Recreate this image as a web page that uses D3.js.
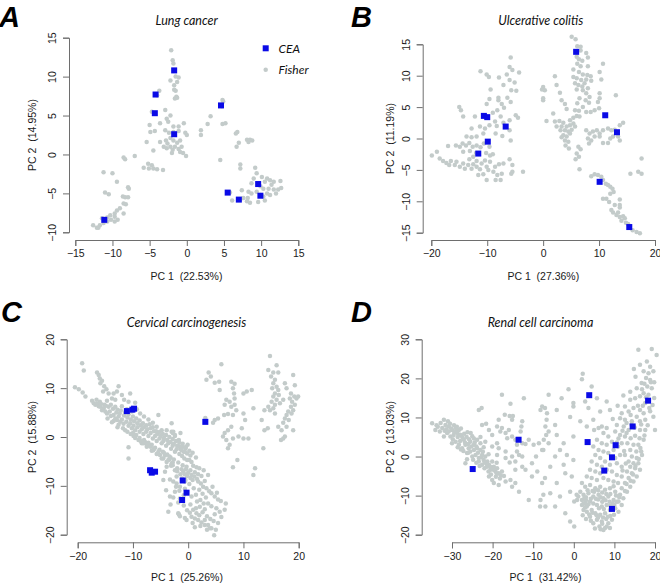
<!DOCTYPE html>
<html><head><meta charset="utf-8">
<script src="https://cdn.jsdelivr.net/npm/d3@7"></script>
<style>body{margin:0;background:#fff}svg{display:block}</style>
</head><body>
<script>
// ---------------- DATA ----------------
const lungXTicks=[-15,-10,-5,0,5,10,15];
const lungYTicks=[-10,-5,0,5,10,15];
const lungCEA=[[-1.7,10.8],[-4.2,7.7],[-4.3,5.3],[-1.7,2.6],[4.6,6.3],[5.5,-4.9],[7.0,-5.8],[9.6,-3.8],[9.9,-5.3],[-11.1,-8.4]];
const lungFisher=[[-2.1,13.4],[-1.9,12.1],[-1.8,11.7],[-1.5,10.0],[-1.1,9.9],[-2.2,9.5],[-1.3,9.3],[-1.7,8.9],[-1.7,8.3],[-1.5,8.2],[-1.4,7.4],[-1.6,7.2],[-1.3,7.3],
[-3.7,8.2],[-4.0,7.6],[-4.7,5.5],[-2.9,5.7],[-2.2,5.0],[-2.7,4.6],[-5.0,3.8],[-3.6,4.0],[-2.5,4.2],[-1.8,3.6],[-1.1,3.6],[-0.4,4.0],[-4.9,2.9],[-4.3,3.0],[-2.9,3.1],[-2.4,2.8],[-1.8,2.9],[-1.1,3.0],[-0.2,2.8],[0,2.5],[-5.4,1.6],[-3.6,1.6],[-2.8,1.8],[-2.6,1.4],[-2.2,2.1],[-1.8,1.8],[-1.3,1.5],[-0.9,1.8],[-3.1,1.0],[-2.7,0.8],[-2.2,1.0],[-1.9,0.6],[-1.6,1.0],[-1.1,0.7],[-0.7,1.0],[-0.5,0.2],[-2.0,0.2],[-4.5,0.5],[-0.1,-0.2],[-0.9,0.3],
[-5.2,-1.2],[-5.8,-1.7],[-5.1,-1.8],[-4.5,-1.8],[-4.0,-1.9],[-3.2,-2.0],[-4.7,-1.4],[-7.0,-0.2],[-8.5,-0.4],[-8.3,-0.6],
[-11.2,-2.3],[-10.0,-2.4],[-9.4,-3.5],[-11.0,-4.9],[-10.5,-5.1],[-7.9,-4.2],[-7.8,-4.4],[-8.6,-5.4],[-8.3,-5.5],[-7.9,-5.5],[-8.5,-6.3],[-8.2,-6.4],[-9.0,-6.9],[-8.5,-7.6],[-9.4,-7.2],[-9.7,-7.6],[-9.7,-8.0],[-10.3,-7.8],[-10.7,-8.1],[-10.2,-8.4],[-9.7,-8.6],[-11.4,-8.2],[-11.2,-8.8],[-11.7,-9.1],[-12.1,-9.4],[-12.6,-9.1],[-11.9,-9.4],[-10.7,-8.6],[-9.3,-8.4],
[1.9,3.1],[1.9,2.5],[2.8,3.9],[3.2,4.9],[4.7,6.2],[4.8,7.0],[4.9,6.8],[4.8,3.9],[5.2,4.0],[4.5,-0.7],[6.8,2.9],[6.6,2.7],[7.0,1.5],[6.7,1.0],[8.1,1.9],[8.3,1.6],[8.5,1.9],[8.8,1.8],[7.2,-1.3],[7.2,-1.8],[9.2,-1.7],[9.4,-2.4],[10.1,-2.9],[9.0,-3.1],[8.7,-3.7],[10.8,-3.1],[10.5,-3.5],[11.2,-3.3],[11.7,-3.5],[11.4,-3.9],[12.6,-3.4],[9.9,-4.1],[10.3,-4.4],[11.0,-4.4],[11.7,-4.5],[12.3,-4.5],[12.7,-4.3],[10.8,-5.0],[11.2,-5.2],[10.3,-5.4],[12.0,-5.0],[8.3,-4.8],[8.7,-5.0],[7.4,-4.6],[7.6,-5.6],[8.1,-6.0],[8.2,-5.6],[7.2,-5.8],[6.1,-5.9],[5.8,-4.9],[8.5,-6.2],[9.6,-6.1],[10.5,-5.9],[9.9,-5.2],[9.4,-4.8]];

const colitisXTicks=[-20,-10,0,10,20];
const colitisYTicks=[-15,-10,-5,0,5,10,15];
const colitisCEA=[[-10.6,3.6],[-10.0,3.4],[-6.7,1.9],[-9.9,-0.5],[-11.6,-2.4],[5.9,13.8],[11.1,3.7],[13.2,1.0],[10.1,-6.9],[15.4,-14.1]];
const colitisFisher=[[-5.8,12.9],[-6.0,11.4],[-5.5,10.9],[-11.2,10.7],[-10.1,10.2],[-4.3,10.5],[-9.7,9.8],[-7.9,9.7],[-6.5,10.2],[-6.0,9.3],[-7.1,8.5],[-5.1,8.9],[-9.4,7.8],[-5.7,7.7],[-4.8,7.6],[-8.0,6.5],[-9.6,6.3],[-8.0,6.1],[-6.4,6.5],[-7.4,5.5],[-10.1,5.5],[-5.8,5.8],[-7.0,4.9],[-15.0,5.0],[-14.7,4.5],[-14.3,3.5],[-8.2,4.5],[-9.0,4.1],[-7.6,3.5],[-4.9,3.7],[-4.5,3.3],[-12.2,3.5],[-8.6,2.7],[-6.0,2.9],[-12.8,1.6],[-11.3,1.9],[-10.4,1.6],[-9.6,2.1],[-8.3,2.0],[-7.1,2.5],[-6.0,1.3],[-5.8,-0.3],[-13.7,0.3],[-12.8,0.2],[-11.9,0.3],[-10.7,0.8],[-8.5,0.8],[-7.3,0.4],[-17.0,-1.2],[-15.6,-1.1],[-14.9,-1.3],[-14.4,-0.8],[-13.8,-1.1],[-13.2,-0.7],[-12.6,-1.3],[-11.9,-1.1],[-11.2,-1.4],[-10.6,-0.8],[-9.6,-1.3],[-13.1,-2.0],[-12.0,-2.3],[-10.2,-2.3],[-9.0,-2.5],[-14.3,-2.1],[-19.0,-2.1],[-19.9,-2.7],[-18.5,-3.2],[-17.9,-3.6],[-17.3,-3.9],[-16.8,-4.2],[-16.5,-3.6],[-15.8,-4.2],[-15.5,-3.7],[-14.9,-4.5],[-14.3,-4.0],[-14.0,-4.8],[-13.4,-4.2],[-12.8,-4.8],[-12.5,-4.1],[-11.9,-4.5],[-11.3,-4.9],[-11.0,-4.0],[-10.4,-3.5],[-10.1,-4.5],[-9.5,-3.7],[-9.8,-5.0],[-8.9,-5.3],[-8.6,-4.5],[-8.2,-5.8],[-8.5,-6.6],[-7.6,-6.6],[-7.4,-5.6],[-10.1,-6.6],[-11.6,-5.8],[-10.7,-5.7],[-7.9,-4.1],[-7.1,-4.0],[-5.5,-4.2],[-5.5,-5.3],[-5.7,-5.6],[-3.6,-5.3],[-6.0,-3.3],[-12.5,-2.9],[-13.2,-3.3],[-9.5,-2.7],[-11.9,-3.6],
[5.1,16.2],[5.8,15.8],[6.1,14.7],[6.7,14.6],[6.7,14.0],[7.7,13.6],[6.0,13.0],[6.4,12.6],[7.0,12.4],[8.0,12.9],[6.1,11.9],[6.7,11.5],[8.0,11.5],[10.7,11.9],[5.4,11.0],[6.4,10.6],[7.1,10.2],[7.9,10.1],[8.5,9.9],[10.1,10.6],[2.1,9.9],[5.4,9.8],[6.0,9.6],[6.8,9.3],[7.7,9.4],[8.6,9.2],[10.4,9.4],[5.7,8.8],[6.3,8.5],[7.0,8.3],[7.4,8.8],[2.4,8.5],[0.0,8.2],[0.3,7.7],[-0.2,7.8],[0.0,6.4],[6.0,7.8],[7.1,7.7],[8.0,8.0],[7.7,7.2],[10.1,7.2],[13.0,6.9],[0.0,6.1],[3.0,7.3],[3.3,6.1],[6.5,6.4],[7.6,6.1],[8.3,6.6],[10.1,6.4],[3.9,5.5],[6.1,5.6],[7.1,5.0],[8.2,5.7],[9.8,5.8],[5.7,4.5],[6.4,4.4],[7.7,4.2],[8.5,4.2],[9.2,4.5],[10.0,4.8],[4.2,4.7],[1.8,4.0],[0.6,2.8],[2.1,2.7],[2.9,2.8],[3.6,2.5],[4.8,2.9],[5.4,3.3],[6.0,3.6],[6.5,3.5],[2.4,1.9],[3.3,1.9],[4.2,1.9],[4.8,2.1],[5.4,2.4],[3.1,1.3],[3.9,1.3],[4.5,1.1],[5.1,1.4],[5.7,1.9],[3.6,0.5],[4.2,0.3],[4.8,0.8],[3.3,0.2],[3.9,-0.3],[4.5,-0.5],[4.0,-1.1],[4.6,-1.6],[6.3,-1.3],[6.7,-1.7],[6.0,-2.4],[6.4,-2.9],[5.8,-3.3],[6.5,-4.9],[7.7,1.3],[8.3,0.8],[8.9,1.1],[9.6,1.3],[10.1,0.8],[10.7,1.3],[11.6,1.6],[12.2,1.3],[12.8,1.4],[13.7,2.1],[14.3,2.5],[8.0,0.0],[8.6,-0.3],[8.2,-0.8],[9.2,0.3],[10.1,0.3],[10.7,-0.7],[11.6,-0.7],[12.0,0.0],[12.5,0.3],[13.4,0.3],[13.7,-0.3],[17.6,-3.2],[15.6,-5.6],[17.0,-5.3],[17.6,-5.6],[8.6,-6.0],[9.2,-5.7],[9.8,-5.8],[10.4,-6.1],[10.7,-6.6],[11.2,-7.2],[11.6,-7.4],[12.0,-7.7],[12.4,-8.0],[10.7,-9.6],[11.3,-9.6],[11.8,-10.1],[12.0,-8.8],[12.6,-8.5],[12.8,-10.6],[13.7,-10.6],[13.7,-9.7],[12.2,-11.4],[12.5,-11.8],[13.1,-12.2],[13.7,-12.5],[14.3,-12.4],[14.6,-12.7],[14.0,-13.1],[14.8,-13.4],[15.2,-13.6],[16.0,-14.6],[16.7,-14.9],[17.3,-15.1],[13.7,-11.0],[13.4,-11.8]];

const cervicalXTicks=[-20,-10,0,10,20];
const cervicalYTicks=[-20,-10,0,10,20];
const cervicalCEA=[[-11.1,5.3],[-10.1,5.6],[-9.8,5.8],[-6.9,-6.8],[-6.6,-7.3],[-6.0,-7.1],[-1.0,-8.9],[-0.3,-11.4],[-1.1,-12.9],[3.1,3.1]];
const cervicalFisher=[[-19.2,15.1],[-18.9,13.6],[-20.5,10.2],[-19.8,9.8],[-19.1,9.1],[-18.6,8.3],[-16.5,13.2],[-16.2,12.7],[-16.0,12.0],[-15.6,11.5],[-15.9,11.0],[-15.2,10.4],[-14.8,9.8],[-15.4,9.3],[-14.4,8.9],[-13.5,8.9],[-12.9,9.3],[-12.6,10.4],[-13.8,7.9],[-13.2,7.6],[-14.7,7.4],[-12.0,8.6],[-11.6,7.6],[-10.5,8.9],[-9.6,7.0],[-10.8,7.2],
[-17.1,6.9],[-16.8,6.6],[-16.5,6.8],[-16.2,6.3],[-15.9,6.2],[-15.6,5.5],[-15.3,5.9],[-15.0,5.2],[-14.7,4.8],[-14.2,5.2],[-14.0,4.3],[-13.5,4.5],[-13.2,3.8],[-12.9,3.5],[-12.6,4.2],[-12.3,3.1],[-12.0,3.6],[-11.7,2.7],[-11.2,3.1],[-10.8,2.3],[-10.5,2.8],[-10.2,1.8],[-9.9,2.3],[-9.6,1.4],[-9.2,2.0],[-8.8,1.1],[-8.4,1.6],[-8.1,0.6],[-7.6,1.1],[-7.2,0.2],[-6.8,0.8],[-6.4,-0.3],[-6.0,0.2],[-5.7,-0.8],[-5.2,-0.3],[-4.8,-1.3],[-4.5,-0.8],[-4.0,-1.8],[-3.6,-1.3],[-3.1,-2.4],[-2.8,-1.8],[-2.4,-3.0],[-2.1,-2.5],[-1.6,-3.5],[-1.1,-3.9],[-0.7,-4.4],[-0.2,-4.7],
[-12.0,6.3],[-11.1,5.7],[-10.2,5.2],[-9.3,5.7],[-8.7,4.8],[-8.0,4.2],[-7.2,3.6],[-6.4,2.9],[-5.7,2.1],[-5.4,4.5],[-4.8,1.4],[-3.9,1.4],[-3.0,1.1],[-2.8,0.8],[-2.4,0.2],[-1.7,-0.6],[-1.1,-2.0],[-0.5,-2.3],[-0.1,-1.6],[-2.7,1.1],[-2.4,0.4],[-1.4,0.8],
[-13.5,3.3],[-12.6,2.5],[-11.8,1.8],[-11.0,1.1],[-9.9,0.2],[-9.0,-0.6],[-8.4,-1.3],[-7.5,-2.0],[-6.6,-2.8],[-5.7,-3.5],[-4.8,-4.4],[-3.9,-5.1],[-3.1,-5.9],[-2.4,-6.8],[-1.4,-7.6],[-2.1,-8.1],[-2.7,-9.1],[-1.1,-8.5],[-0.5,-8.8],[-4.0,-10.9],[-3.6,-15.3],[-1.7,-15.8],[-3.3,-12.2],[-0.8,-11.9],[-10.8,-2.1],[-10.8,-4.4],
[-16.0,7.2],[-15.2,6.6],[-14.4,6.2],[-13.6,5.8],[-13.0,5.0],[-12.4,4.8],[-11.6,4.4],[-11.0,4.0],[-10.4,3.6],[-9.8,3.2],[-9.2,2.8],[-8.6,2.4],[-8.0,2.0],[-7.4,1.6],[-6.8,1.8],[-6.2,1.2],[-5.6,0.6],[-5.0,0.2],[-4.4,-0.2],[-3.8,-0.6],[-3.2,-1.0],[-2.6,-1.4],[-2.0,-1.8],[-1.4,-2.4],[-0.8,-3.0],[-0.2,-3.4],[0.4,-3.8],[-10.0,0.8],[-9.4,0.4],[-8.8,-0.2],[-8.0,-0.6],[-7.2,-1.2],[-6.6,-1.6],[-6.0,-2.2],[-5.2,-2.6],[-4.6,-3.0],[-3.8,-3.6],[-3.2,-4.2],[-2.6,-4.6],[-1.8,-5.2],
[-16.6,7.6],[-17.4,7.4],[-15.8,6.8],[-14.9,6.4],[-14.0,6.6],[-13.2,6.2],[-12.8,5.6],[-12.2,5.4],[-11.4,5.0],[-10.8,4.6],[-10.0,4.2],[-9.4,3.8],[-8.8,3.4],[-8.2,2.8],[-7.6,2.4],[-7.0,2.6],[-6.4,2.0],[-5.8,1.2],[-5.2,1.0],[-4.6,0.6],[-4.0,0.4],[-3.4,0.0],[-2.8,-0.4],[-2.2,-0.8],[-1.6,-1.2],[-1.0,-1.4],[-0.4,-2.0],[0.2,-2.8],[0.8,-3.2],[1.4,-4.2],[-14.6,3.8],[-13.8,3.0],[-12.8,2.0],[-11.4,1.4],[-10.4,0.6],[-9.6,-0.2],[-8.6,-0.8],[-7.8,-1.0],[-7.0,-1.8],[-6.2,-2.4],[-5.4,-3.0],[-4.2,-3.8],[-3.4,-4.6],[-2.8,-5.8],[-2.0,-7.0],[-1.2,-6.6],[-0.6,-7.6],[0.4,-8.4],[1.8,-7.6],[2.8,-6.8],
[-1.5,-2.0],[-1.2,-2.7],[-0.6,-3.0],[0.2,-4.7],[0.6,-5.1],[0.9,-5.9],[1.5,-6.2],[2.0,-6.4],[-0.3,-6.1],[-0.9,-7.1],[0.0,-7.3],[0.6,-7.8],[1.1,-8.1],[1.8,-9.1],[2.3,-9.5],[2.7,-10.2],[3.3,-10.5],[3.8,-11.1],[4.2,-11.5],[4.8,-12.2],[5.4,-12.8],[5.9,-13.1],[6.6,-14.9],[5.1,-14.6],[5.7,-15.3],[2.8,-13.6],[2.1,-14.3],[1.5,-15.6],[0.9,-14.9],[0.3,-15.5],[0.6,-16.3],[1.2,-16.7],[1.8,-17.0],[2.4,-17.5],[3.0,-18.0],[3.6,-18.0],[4.2,-18.7],[4.7,-20.1],[3.9,-18.7],[1.2,-18.5],[-0.3,-17.0],[-1.5,-16.2],[-1.8,-15.6],[-1.5,-12.6],[-2.7,-12.4],[-2.4,-11.2],[-1.5,-10.2],[-0.6,-9.1],[-2.1,-9.5],[-3.3,-8.7],[-4.5,-8.8],[-4.2,-7.1],[-3.9,-6.1],[-3.0,-5.4],[-3.6,-4.7],[-4.5,-4.4],[-5.1,-3.7],[-6.3,-2.7],[-6.8,-2.0],[-7.5,-1.6],[-8.1,-1.3],[-3.0,2.8],[3.1,3.9],
[-1.0,-5.8],[-0.4,-6.6],[0.4,-6.8],[1.2,-7.2],[-0.2,-8.0],[0.8,-8.8],[1.6,-8.6],[2.0,-10.8],[1.0,-10.5],[0.2,-9.6],[1.4,-11.8],[2.6,-11.6],[3.2,-12.4],[2.2,-12.9],[1.6,-13.2],[0.6,-12.2],[3.6,-13.6],[4.2,-14.2],[3.0,-14.8],[2.6,-15.4],[3.4,-16.2],[4.0,-16.8],[2.0,-16.0],[1.4,-14.6],[0.4,-13.8],[4.8,-15.8],[5.4,-17.6],[4.6,-17.2],[3.0,-17.0],[2.2,-18.2],[3.4,-19.0],[5.0,-19.0],[6.0,-16.4],[6.8,-13.6],[5.2,-11.4],[4.4,-10.2],[3.0,-9.0],[2.4,-8.0],[3.6,-7.8],[-2.0,-6.4],[-2.8,-5.2],[-3.4,-4.0],[-4.4,-3.2],[-0.6,-10.6],[-1.6,-11.0],[-2.2,-10.2],[-1.8,-13.4],[-0.8,-14.0],[-0.2,-15.0],[-0.6,-16.6],[0.8,-17.6],[-3.2,-13.8],
[6.0,14.9],[3.7,13.2],[4.1,12.4],[3.3,11.7],[4.8,11.1],[5.6,11.3],[5.7,9.6],[7.8,11.3],[8.4,10.9],[8.1,10.0],[8.3,8.9],[10.0,8.9],[10.6,9.3],[11.5,9.6],[6.9,7.6],[7.5,7.2],[8.4,7.9],[6.6,6.6],[7.8,6.2],[8.4,6.6],[8.7,5.5],[8.1,4.5],[7.2,4.7],[6.5,4.5],[5.4,3.8],[4.8,3.5],[4.5,2.9],[10.0,4.8],[10.3,3.5],[9.7,1.8],[11.8,5.9],[7.8,2.1],[7.2,1.4],[6.6,0.8],[6.3,0.1],[6.9,-0.6],[7.5,-1.6],[7.2,-2.3],[9.1,0.1],[10.0,-0.3],[10.9,-0.3],[8.1,-0.3],[8.9,-4.7],[8.1,-6.2],[12.1,-6.4],[11.8,-7.8],[13.6,-2.3],[13.3,3.5],[13.8,1.4],[14.4,1.8],[13.8,5.5],[14.8,5.5],[15.4,5.9],[14.8,16.6],[16.0,14.7],[14.5,13.7],[15.4,13.2],[16.3,13.2],[15.0,12.4],[15.7,11.7],[15.4,11.0],[16.0,10.3],[15.2,10.0],[16.3,9.6],[15.7,8.9],[16.4,8.6],[15.4,8.3],[16.0,7.6],[15.1,7.2],[15.7,6.6],[16.6,6.9],[17.2,7.6],[17.5,11.0],[17.8,10.0],[19.0,12.7],[19.3,10.6],[18.6,8.9],[19.2,8.3],[19.6,7.9],[19.9,8.3],[18.4,7.9],[18.8,7.2],[19.3,6.6],[18.6,6.2],[19.0,5.5],[18.1,5.2],[18.7,4.8],[17.8,4.5],[17.5,3.8],[18.2,3.5],[17.2,2.9],[17.8,2.1],[19.0,1.4],[16.9,1.4],[17.5,0.1],[16.8,-0.6],[17.2,-0.3],[16.3,2.1],[15.7,4.8],[14.5,6.2]];

const renalXTicks=[-30,-20,-10,0,10,20];
const renalYTicks=[-20,-10,0,10,20,30];
const renalCEA=[[-24.9,-3.2],[-13.6,4.3],[3.8,15.7],[3.4,3.7],[10.3,2.9],[9.4,-0.2],[7.5,-3.6],[14.5,7.7],[18.3,14.3],[9.4,-13.4]];
const renalFisher=[[-34.9,8.5],[-34.1,6.8],[-32.0,9.4],[-31.6,8.1],[-32.4,7.3],[-30.8,7.7],[-30.0,6.8],[-29.1,7.3],[-28.3,6.8],[-31.2,6.0],[-30.4,5.1],[-32.0,5.1],[-29.6,5.5],[-28.7,6.0],[-27.7,5.3],[-27.1,4.3],[-29.1,3.8],[-30.0,3.4],[-28.3,3.0],[-27.5,2.1],[-26.7,3.0],[-25.9,2.1],[-26.3,0.9],[-25.5,1.3],[-24.6,1.7],[-24.2,0.4],[-25.0,0.0],[-23.8,2.1],[-23.0,1.7],[-22.6,0.4],[-23.4,-0.4],[-22.2,-0.9],[-21.8,0.0],[-21.3,-1.3],[-20.9,-2.1],[-20.1,-1.3],[-19.7,-2.6],[-20.5,-3.4],[-19.3,-3.8],[-18.5,-4.3],[-18.9,-3.0],[-17.7,-3.8],[-20.9,-5.1],[-20.1,-6.0],[-19.7,-6.8],[-18.5,-7.3],[-16.8,-6.4],[-15.6,-6.0],[-15.2,-7.7],[-14.4,-6.8],[-13.5,-9.0],[-11.1,-11.1],[-8.2,-11.1],[-7.0,-12.8],[-26.7,-1.7],[-26.3,-0.7],[-23.4,-1.3],[-22.6,-2.1],[-23.8,4.3],[-23.0,3.4],[-25.5,3.8],[-24.6,3.0],
[-33.5,7.6],[-32.8,8.6],[-31.0,9.0],[-30.5,8.4],[-29.5,8.0],[-28.8,7.6],[-29.8,4.4],[-28.0,4.0],[-27.0,5.8],[-26.4,5.0],[-25.8,4.4],[-25.0,5.2],[-24.4,3.6],[-26.0,1.0],[-27.2,1.4],[-28.6,2.4],[-27.8,1.8],[-24.8,-0.8],[-24.0,-1.6],[-23.2,-2.4],[-22.0,-3.0],[-21.6,-1.8],[-21.0,-3.8],[-20.4,-4.6],[-19.2,-5.2],[-18.2,-5.6],[-17.2,-5.0],[-19.0,-1.6],[-22.4,1.2],[-21.0,0.6],[-29.4,6.2],[-31.8,6.6],[-33.0,6.4],
[-33.8,8.0],[-31.4,7.0],[-30.2,7.2],[-29.0,6.4],[-28.0,5.6],[-27.4,4.8],[-26.8,3.6],[-26.0,3.2],[-25.2,2.6],[-24.0,2.6],[-23.6,1.0],[-22.8,-0.2],[-22.0,-1.4],[-21.4,-2.6],[-20.6,-2.6],[-19.8,-3.4],[-19.0,-4.4],[-18.0,-4.8],[-28.6,5.0],[-30.8,6.4],[-27.8,7.2],[-26.2,6.2],[-25.4,6.0],[-24.6,4.6],[-23.0,5.0],[-21.8,3.8],[-22.2,2.4],
[-17.7,15.8],[-15.6,13.5],[-12.3,14.9],[-23.4,11.9],[-22.7,12.4],[-17.0,10.7],[-15.8,10.4],[-15.0,10.4],[-15.2,9.4],[-18.5,9.4],[-22.6,8.1],[-21.6,8.4],[-20.9,6.8],[-20.1,5.5],[-18.9,7.7],[-18.1,6.4],[-17.7,7.3],[-16.8,6.0],[-16.0,6.8],[-16.4,4.7],[-15.2,5.1],[-14.4,4.3],[-12.7,9.0],[-12.9,7.7],[-13.1,6.4],[-14.0,3.0],[-12.7,3.4],[-11.9,3.2],[-11.1,4.3],[-9.9,3.0],[-8.6,3.4],[-18.9,3.4],[-18.5,2.1],[-20.1,2.6],[-16.8,1.3],[-15.2,0.0],[-16.8,-0.4],[-18.9,0.4],[-14.4,-1.3],[-15.8,-1.5],[-13.5,0.4],[-12.7,0.0],[-14.0,1.3],[-10.3,-1.7],[-9.3,0.0],[-7.8,1.7],[-9.0,-3.8],[-7.8,-6.8],[-10.3,-5.1],[-11.9,-3.4],[-12.7,-2.6],[-14.4,-3.4],[-6.6,11.1],[-8.2,11.9],[-7.8,12.8],[-7.0,7.7],[-6.8,5.5],[-7.4,4.3],
[2.2,21.2],[2.0,19.8],[4.4,17.9],[-1.3,17.2],[-6.2,15.8],[-3.0,14.9],[-0.1,13.7],[2.8,14.1],[5.7,14.9],[8.1,14.1],[-7.1,12.4],[-4.2,11.9],[-0.1,12.8],[3.6,12.4],[6.5,11.5],[8.9,11.9],[-6.7,9.4],[-4.6,8.1],[-0.9,10.1],[1.6,9.0],[4.8,9.4],[3.2,7.7],[5.0,6.8],[6.9,7.7],[8.1,7.3],[-6.2,6.4],[-4.2,5.5],[-0.1,5.1],[-2.5,3.4],[-6.2,3.4],[-7.5,1.7],[-4.6,0.0],[-5.8,-2.6],[-2.5,-2.1],[-0.1,-0.9],[-1.7,0.4],[-3.4,1.7],[-7.1,-5.5],[-4.2,-6.8],[-2.1,-4.3],[-0.5,-5.1],[-5.8,-9.4],[-3.4,-10.2],[-0.9,-9.0],[0.1,-11.5],[0.8,-11.1],[-2.1,-14.5],[-0.9,-16.6],[0.1,-17.9],[-8.3,-12.8],[-7.5,-9.8],[-4.6,-12.8],
[15.9,27.3],[19.2,27.5],[20.4,26.0],[18.0,24.3],[18.8,23.0],[16.3,23.5],[14.8,22.4],[17.2,21.8],[18.4,21.3],[19.6,21.8],[17.8,20.1],[18.8,19.6],[16.7,18.8],[18.1,17.9],[19.2,17.5],[13.9,16.6],[15.5,17.5],[17.2,16.2],[18.4,15.8],[16.3,15.4],[15.1,14.9],[17.6,13.7],[13.9,14.5],[12.6,12.8],[11.8,11.1],[13.5,11.5],[14.7,12.4],[16.3,11.9],[17.2,11.1],[15.5,10.2],[11.4,9.8],[12.6,9.4],[14.3,9.0],[16.3,9.0],[17.6,9.4],[10.6,8.1],[12.3,7.7],[13.5,6.8],[16.3,6.8],[17.6,6.8],[10.2,6.4],[11.4,5.5],[12.6,5.1],[14.0,4.7],[15.1,5.3],[16.2,4.7],[17.2,4.3],[13.2,3.4],[14.7,3.0],[15.9,3.0],[13.9,1.7],[15.4,1.3],[16.6,1.3],[12.6,0.4],[14.3,0.0],[15.5,-0.4],[13.5,-1.3],[14.7,-1.7],[15.9,-1.7],[13.9,-2.6],[15.1,-3.0],[16.3,-3.4],[13.1,-3.8],[14.3,-4.3],[15.5,-5.1],[13.5,-5.5],[14.7,-6.4],[12.6,-6.8],[13.9,-7.7],[11.8,-8.1],[13.1,-9.0],[11.4,-9.8],[12.2,-10.7],[11.0,-11.5],[11.8,-12.4],[10.2,-13.2],[11.0,-14.1],[9.9,-14.9],[9.4,-16.2],[8.5,-17.1],[8.9,-18.3],[7.7,-18.3],[8.1,-17.9],[19.6,10.2],[20.0,6.8],[19.0,19.0],[19.8,15.0],
[6.1,7.3],[7.3,6.0],[8.5,5.1],[5.7,4.3],[6.9,3.4],[8.1,3.0],[9.4,3.8],[4.8,2.6],[6.1,1.7],[7.3,1.3],[8.5,0.9],[9.8,1.7],[10.9,2.6],[11.8,3.4],[5.3,0.4],[6.5,-0.4],[7.7,-1.3],[10.2,-0.4],[11.4,0.4],[4.4,-1.3],[5.7,-2.1],[6.9,-2.6],[8.9,-2.1],[10.6,-1.7],[11.8,-2.6],[4.0,-3.4],[5.3,-3.8],[6.5,-4.3],[8.1,-3.4],[9.4,-3.8],[10.6,-4.7],[11.8,-5.1],[3.2,-5.1],[4.4,-5.5],[5.7,-6.0],[7.3,-5.5],[8.5,-6.0],[9.8,-6.4],[10.9,-6.8],[2.0,-6.8],[2.8,-7.7],[4.0,-7.3],[5.3,-8.1],[6.5,-7.7],[7.7,-8.5],[8.9,-8.1],[10.2,-9.0],[1.6,-9.0],[2.4,-9.8],[3.6,-9.4],[4.8,-10.2],[6.1,-9.8],[7.3,-10.7],[8.5,-10.2],[9.8,-11.1],[2.0,-11.1],[2.8,-11.9],[4.0,-11.5],[3.2,-12.8],[4.4,-13.7],[5.7,-12.4],[6.9,-12.8],[8.1,-12.4],[8.9,-13.7],[5.3,-14.5],[6.5,-14.9],[7.7,-14.5],[4.0,-15.4],[5.7,-16.2],[6.9,-16.6],[4.8,-17.1],[6.3,-17.9],[7.3,-18.8],[3.2,-14.1],[2.4,-13.7],[2.0,-12.4],[1.1,-10.2],[0.7,-9.8],
[2.6,-10.6],[3.0,-11.2],[2.4,-12.0],[3.6,-12.2],[2.8,-13.0],[3.8,-14.8],[2.2,-15.0],[3.0,-16.0],[4.2,-16.4],[7.2,-15.6],[8.0,-16.0],[9.0,-15.2],[9.6,-12.0],[10.4,-10.0],[12.0,-3.6],[12.8,-1.8],[12.4,1.4],[13.0,6.0],[14.2,8.2],[15.0,7.4],[16.6,8.2],[17.0,13.0],[18.8,11.6],[17.4,18.6],[15.2,20.4],[12.2,15.6],[10.8,13.0],[9.6,9.6],[9.8,-7.6],[7.0,-11.6],[6.0,-11.0],[5.0,-9.0],
[3.4,-8.6],[4.6,-8.8],[6.0,-8.6],[7.0,-9.2],[8.0,-9.6],[9.0,-9.6],[3.0,-10.4],[4.2,-10.8],[5.4,-10.8],[6.6,-10.4],[7.8,-11.2],[8.8,-11.6],[4.8,-12.0],[6.2,-13.2],[7.4,-13.4],[4.6,-14.4],[5.6,-15.0],[6.0,-15.6],[7.0,-17.2],[5.2,-18.4],[6.6,-18.6],[8.4,-15.4],[9.0,-12.6],[10.0,-12.4],[10.6,-11.6],[11.2,-10.4],[12.6,-8.8],[13.0,-7.0],[14.0,-6.2],[14.6,-4.6],[15.2,-2.4],[16.0,-0.6],[16.8,0.4],[16.4,2.2],[17.4,5.4],[18.2,8.0],[18.6,12.4],[19.4,13.2],[19.8,19.0],[16.8,17.2],[17.8,15.2],[15.8,13.0],[14.0,10.6],[13.0,8.6],[12.0,6.6],[11.0,4.6],[10.6,3.6]];

// ---------------- LAYOUT ----------------
const W=660,H=583;
const svg=d3.select("body").append("svg").attr("width",W).attr("height",H);
const GREY="#c3cbca", BLUE="#0a0ae6", AXIS="#6e6e6e", TXT="#1a1a1a";
const sans="'Liberation Sans', Arial, sans-serif";
const cal="Lato, 'Open Sans', sans-serif";

const panels=[
 {letter:"A",lx:-1,ly:26.5,title:"Lung cancer",xlab:"PC 1  (22.53%)",ylab:"PC 2  (14.95%)",fisher:lungFisher,cea:lungCEA,xt:lungXTicks,yt:lungYTicks,
  xr:[75.3,298.3],yr:[232.3,37.7],ax:69,ay:240,tx:186.7,ty:25,xlx:186.5,xly:280,ylx:35.5,legend:true},
 {letter:"B",lx:351,ly:26.5,title:"Ulcerative colitis",xlab:"PC 1  (27.36%)",ylab:"PC 2  (11.19%)",fisher:colitisFisher,cea:colitisCEA,xt:colitisXTicks,yt:colitisYTicks,
  xr:[431.3,655],yr:[232.7,44.3],ax:422.7,ay:240,tx:540.7,ty:25,xlx:543.3,xly:280,ylx:393.5},
 {letter:"C",lx:1,ly:321.7,title:"Cervical carcinogenesis",xlab:"PC 1  (25.26%)",ylab:"PC 2  (15.88%)",fisher:cervicalFisher,cea:cervicalCEA,xt:cervicalXTicks,yt:cervicalYTicks,
  xr:[77.7,298.7],yr:[534.7,339.3],ax:66.7,ay:542.3,tx:186.5,ty:327,xlx:187,xly:581,ylx:35.5},
 {letter:"D",lx:351,ly:321.7,title:"Renal cell carcinoma",xlab:"PC 1  (31.42%)",ylab:"PC 2  (13.03%)",fisher:renalFisher,cea:renalCEA,xt:renalXTicks,yt:renalYTicks,
  xr:[452,655],yr:[534.7,339.3],ax:421.7,ay:542.3,tx:540.5,ty:327,xlx:545.5,xly:581,ylx:393.5}
];

panels.forEach(p=>{
  const g=svg.append("g");
  const x=d3.scaleLinear().domain([p.xt[0],p.xt[p.xt.length-1]]).range(p.xr);
  const y=d3.scaleLinear().domain([p.yt[0],p.yt[p.yt.length-1]]).range(p.yr);

  const xa=g.append("g").attr("transform",`translate(0,${p.ay})`)
    .call(d3.axisBottom(x).tickValues(p.xt).tickSizeOuter(0).tickSize(6).tickPadding(4));
  const ya=g.append("g").attr("transform",`translate(${p.ax},0)`)
    .call(d3.axisLeft(y).tickValues(p.yt).tickSizeOuter(0).tickSize(6));
  [xa,ya].forEach(a=>{
    a.select(".domain").attr("stroke",AXIS).attr("stroke-width",1);
    a.selectAll(".tick line").attr("stroke",AXIS).attr("stroke-width",1);
    a.selectAll("text").attr("fill",TXT).style("font-family",sans).style("font-size","10.5px");
  });
  xa.selectAll("text").attr("y",10).attr("dy","0.71em");
  ya.selectAll("text").attr("transform","rotate(-90)").attr("x",0).attr("y",-13).attr("dy",0).attr("text-anchor","middle");

  g.append("g").selectAll("circle").data(p.fisher).join("circle")
    .attr("cx",d=>x(d[0])).attr("cy",d=>y(d[1])).attr("r",2.25).attr("fill",GREY);
  g.append("g").selectAll("rect").data(p.cea).join("rect")
    .attr("x",d=>x(d[0])-3).attr("y",d=>y(d[1])-3).attr("width",6).attr("height",6).attr("fill",BLUE);

  g.append("text").attr("x",p.tx).attr("y",p.ty).attr("text-anchor","middle")
    .style("font-family",cal).style("font-style","italic").style("font-size","12.5px").attr("fill","#111").text(p.title);
  g.append("text").attr("x",p.xlx).attr("y",p.xly).attr("text-anchor","middle")
    .style("font-family",sans).style("font-size","10.5px").attr("fill",TXT).style("white-space","pre").text(p.xlab);
  const ymid=(p.yr[0]+p.yr[1])/2;
  g.append("text").attr("transform",`translate(${p.ylx},${ymid}) rotate(-90)`).attr("text-anchor","middle")
    .style("font-family",sans).style("font-size","10.5px").attr("fill",TXT).style("white-space","pre").text(p.ylab);
  g.append("text").attr("x",p.lx).attr("y",p.ly)
    .style("font-family","'Liberation Sans', Arial, sans-serif").style("font-weight","bold").style("font-style","italic")
    .style("font-size","29px").attr("fill","#000").text(p.letter);

  if(p.legend){
    const lg=g.append("g");
    lg.append("rect").attr("x",262.7).attr("y",45.3).attr("width",6).attr("height",6).attr("fill",BLUE);
    lg.append("circle").attr("cx",265.7).attr("cy",69.7).attr("r",2.25).attr("fill",GREY);
    lg.append("text").attr("x",278.5).attr("y",52.5).style("font-family",cal).style("font-style","italic").style("font-size","12px").attr("fill","#111").text("CEA");
    lg.append("text").attr("x",278.5).attr("y",74).style("font-family",cal).style("font-style","italic").style("font-size","12px").attr("fill","#111").text("Fisher");
  }
});
</script>
</body></html>
